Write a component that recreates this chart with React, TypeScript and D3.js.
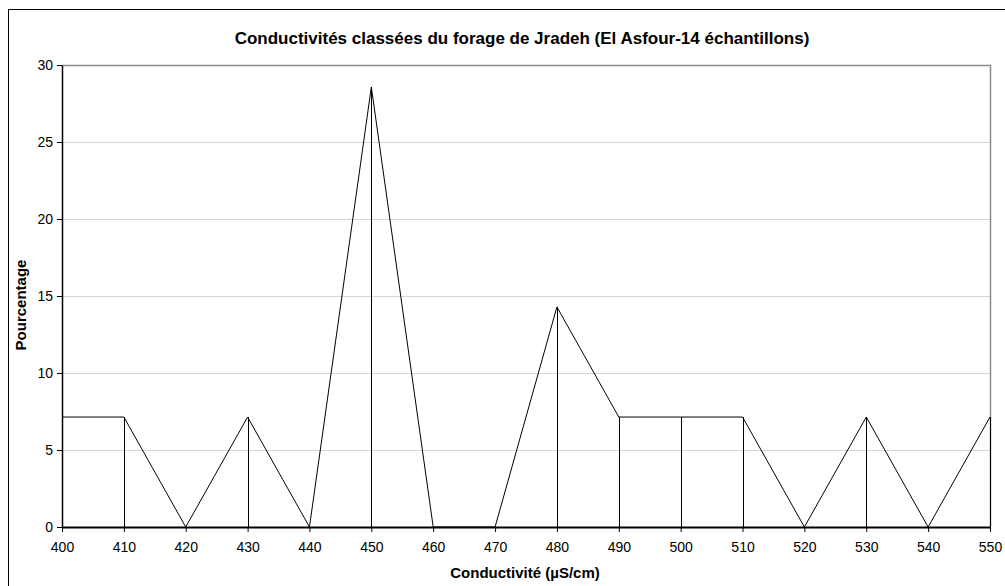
import React, { useEffect, useRef } from 'react';
import * as d3 from 'd3';

const conductivities = [400, 410, 420, 430, 440, 450, 460, 470, 480, 490, 500, 510, 520, 530, 540, 550];
const percentages = [7.14, 7.14, 0, 7.14, 0, 28.57, 0, 0, 14.29, 7.14, 7.14, 7.14, 0, 7.14, 0, 7.14];
const yTicks = [0, 5, 10, 15, 20, 25, 30];

const title = 'Conductivités classées du forage de Jradeh (El Asfour-14 échantillons)';
const xTitle = 'Conductivité (µS/cm)';
const yTitle = 'Pourcentage';

const App: React.FC = () => {
  const ref = useRef<SVGSVGElement | null>(null);

  useEffect(() => {
    if (!ref.current) return;
    const svg = d3.select(ref.current);
    svg.selectAll('*').remove();

    const width = 1005;
    const height = 586;
    const margin = { top: 65, right: 15, bottom: 59, left: 62 };
    const font = 'Arial, "Liberation Sans", sans-serif';

    // outer chart frame
    svg.append('rect')
      .attr('x', 8.5).attr('y', 9.5)
      .attr('width', 1005).attr('height', 600)
      .attr('fill', '#fff').attr('stroke', '#000').attr('stroke-width', 1);

    const x = d3.scaleLinear().domain([400, 550]).range([margin.left, width - margin.right]);
    const y = d3.scaleLinear().domain([0, 30]).range([height - margin.bottom, margin.top]);

    // gridlines
    svg.append('g')
      .selectAll('line')
      .data(yTicks.filter(t => t > 0 && t < 30))
      .enter().append('line')
      .attr('x1', x(400)).attr('x2', x(550))
      .attr('y1', d => Math.round(y(d)) + 0.5).attr('y2', d => Math.round(y(d)) + 0.5)
      .attr('stroke', '#d4d4d4');

    // plot area border (top/right)
    svg.append('path')
      .attr('d', `M${x(400)},${Math.round(y(30)) + 0.5}H${Math.round(x(550)) + 0.5}V${y(0)}`)
      .attr('fill', 'none').attr('stroke', '#8c8c8c').attr('stroke-width', 1.5);

    const pts = conductivities.map((c, i) => [c, percentages[i]] as [number, number]);

    // drop lines
    svg.append('g')
      .selectAll('line')
      .data(pts)
      .enter().append('line')
      .attr('x1', d => Math.round(x(d[0])) + 0.5).attr('x2', d => Math.round(x(d[0])) + 0.5)
      .attr('y1', d => y(d[1])).attr('y2', y(0))
      .attr('stroke', '#000').attr('stroke-width', 1);

    // series line
    const line = d3.line<[number, number]>().x(d => x(d[0])).y(d => y(d[1]));
    svg.append('path')
      .datum(pts)
      .attr('d', line)
      .attr('fill', 'none').attr('stroke', '#000').attr('stroke-width', 1);

    // x axis
    const xAxis = svg.append('g')
      .attr('transform', `translate(0,${y(0)})`)
      .call(d3.axisBottom(x).tickValues(conductivities).tickSize(5).tickSizeOuter(0).tickFormat(d3.format('d')));
    xAxis.select('.domain').attr('stroke', '#000').attr('stroke-width', 2);
    xAxis.selectAll('text').attr('font-family', font).attr('font-size', 14).attr('fill', '#000').attr('y', 15).attr('dy', '0.71em');

    // y axis
    const yAxis = svg.append('g')
      .attr('transform', `translate(${x(400)},0)`)
      .call(d3.axisLeft(y).tickValues(yTicks).tickSize(5).tickSizeOuter(0));
    yAxis.select('.domain').attr('stroke', '#000').attr('stroke-width', 1.5);
    yAxis.selectAll('text').attr('font-family', font).attr('font-size', 14).attr('fill', '#000').attr('x', -9);

    svg.append('text')
      .attr('x', 522).attr('y', 44)
      .attr('text-anchor', 'middle')
      .attr('font-family', font).attr('font-size', 17).attr('font-weight', 'bold')
      .text(title);

    svg.append('text')
      .attr('x', 525).attr('y', 578)
      .attr('text-anchor', 'middle')
      .attr('font-family', font).attr('font-size', 15).attr('font-weight', 'bold')
      .text(xTitle);

    svg.append('text')
      .attr('transform', `translate(26,305) rotate(-90)`)
      .attr('text-anchor', 'middle')
      .attr('font-family', font).attr('font-size', 15).attr('font-weight', 'bold')
      .text(yTitle);
  }, []);

  return (
    <svg
      ref={ref}
      width={1005}
      height={586}
      style={{ position: 'absolute', left: 0, top: 0, background: '#fff' }}
    />
  );
};

export default App;
